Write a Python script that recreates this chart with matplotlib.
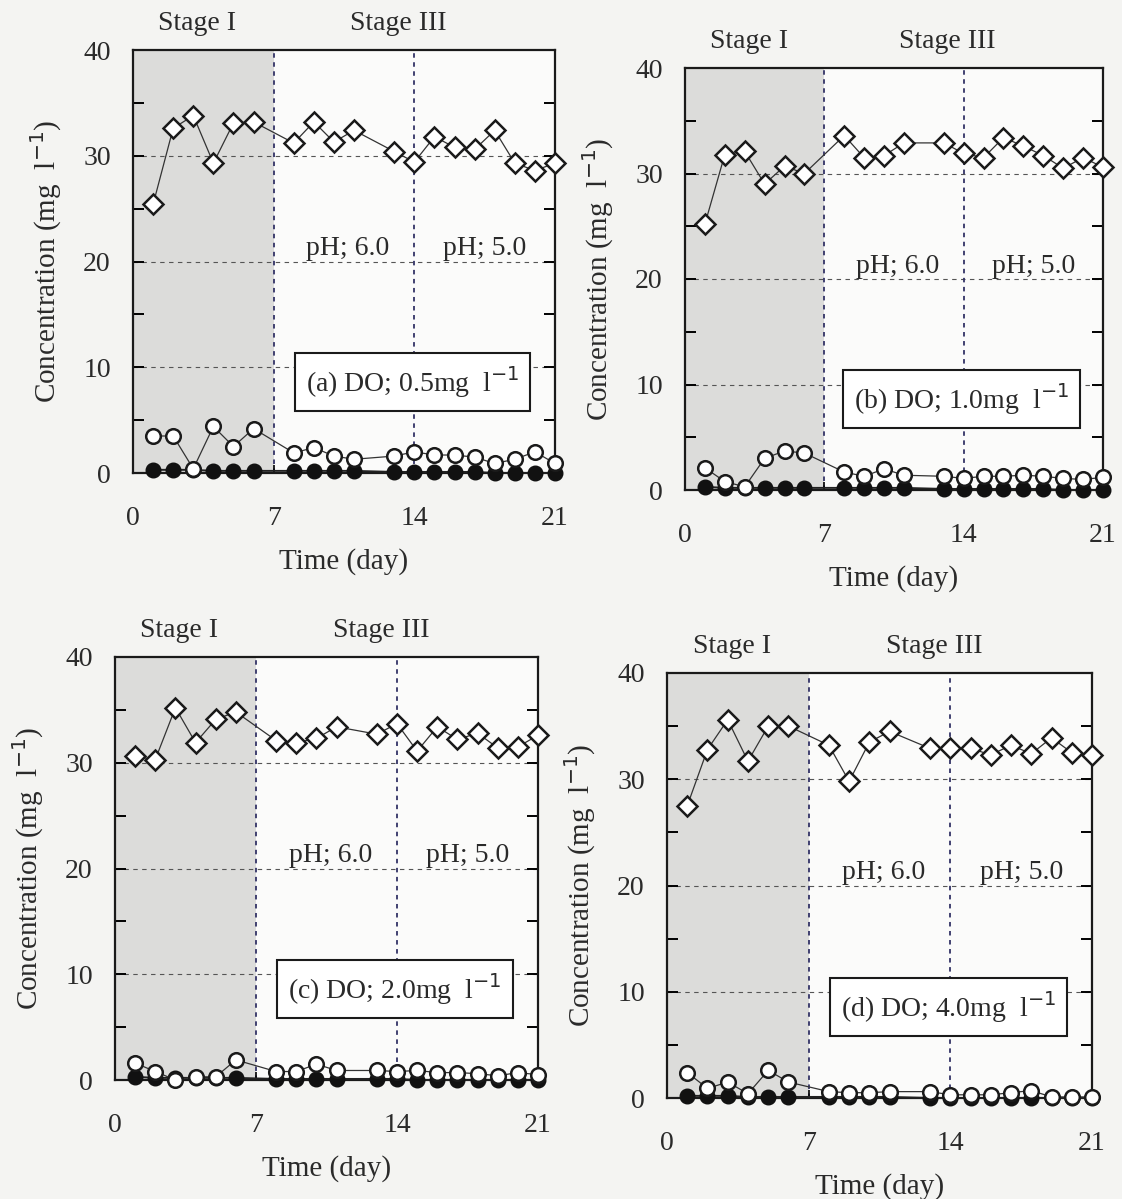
import matplotlib
matplotlib.use("Agg")
import matplotlib.pyplot as plt
import numpy as np

plt.rcParams['font.family'] = ['Liberation Serif', 'DejaVu Serif']

days = [1, 2, 3, 4, 5, 6, 8, 9, 10, 11, 13, 14, 15, 16, 17, 18, 19, 20, 21]

diam_a = [25.4, 32.6, 33.8, 29.3, 33.1, 33.2, 31.2, 33.2, 31.3, 32.4, 30.4, 29.4, 31.8, 30.8, 30.6, 32.4, 29.3, 28.6, 29.3]
open_a = [3.5, 3.5, 0.4, 4.4, 2.5, 4.2, 1.9, 2.4, 1.6, 1.3, 1.6, 2.0, 1.7, 1.7, 1.5, 0.9, 1.3, 2.0, 0.9]
fill_a = [0.3, 0.3, 0.3, 0.2, 0.2, 0.2, 0.2, 0.2, 0.2, 0.2, 0.1, 0.1, 0.1, 0.1, 0.1, 0.0, 0.0, 0.0, 0.0]

diam_b = [25.2, 31.8, 32.1, 29.0, 30.7, 30.0, 33.6, 31.5, 31.7, 32.9, 32.9, 31.9, 31.5, 33.4, 32.6, 31.7, 30.5, 31.5, 30.6]
open_b = [2.1, 0.8, 0.3, 3.0, 3.7, 3.5, 1.7, 1.3, 2.0, 1.4, 1.3, 1.1, 1.3, 1.3, 1.4, 1.3, 1.1, 1.0, 1.2]
fill_b = [0.3, 0.2, 0.2, 0.2, 0.2, 0.2, 0.2, 0.2, 0.2, 0.2, 0.1, 0.1, 0.1, 0.1, 0.1, 0.1, 0.0, 0.0, 0.0]

diam_c = [30.6, 30.3, 35.2, 31.9, 34.1, 34.8, 32.1, 31.9, 32.3, 33.4, 32.7, 33.7, 31.1, 33.4, 32.2, 32.8, 31.4, 31.5, 32.6]
open_c = [1.6, 0.8, 0.0, 0.3, 0.3, 1.9, 0.8, 0.8, 1.5, 0.9, 0.9, 0.8, 0.9, 0.7, 0.7, 0.6, 0.4, 0.7, 0.5]
fill_c = [0.3, 0.2, 0.2, 0.2, 0.2, 0.2, 0.1, 0.1, 0.1, 0.1, 0.1, 0.1, 0.0, 0.0, 0.0, 0.0, 0.0, 0.0, 0.0]

diam_d = [27.5, 32.8, 35.6, 31.7, 35.0, 35.0, 33.2, 29.8, 33.5, 34.5, 32.9, 32.9, 32.9, 32.3, 33.2, 32.4, 33.9, 32.5, 32.3]
open_d = [2.4, 0.9, 1.5, 0.4, 2.6, 1.5, 0.6, 0.5, 0.5, 0.6, 0.6, 0.3, 0.3, 0.3, 0.5, 0.7, 0.1, 0.1, 0.1]
fill_d = [0.2, 0.2, 0.2, 0.1, 0.1, 0.1, 0.1, 0.1, 0.1, 0.1, 0.0, 0.0, 0.0, 0.0, 0.0, 0.0, 0.0, 0.0, 0.0]

panel_labels = ["(a) DO; 0.5mg  l$^{-1}$", "(b) DO; 1.0mg  l$^{-1}$",
                "(c) DO; 2.0mg  l$^{-1}$", "(d) DO; 4.0mg  l$^{-1}$"]
xticks = [0, 7, 14, 21]
yticks = [0, 10, 20, 30, 40]

W, H = 1122, 1199
fig = plt.figure(figsize=(W / 100, H / 100), dpi=100, facecolor='#f4f4f2')

# pixel boxes: left, right, top, bottom
boxes = [(133, 555, 50, 473), (685, 1103, 68, 490), (115, 538, 657, 1080), (667, 1092, 673, 1098)]
series = [(diam_a, open_a, fill_a), (diam_b, open_b, fill_b),
          (diam_c, open_c, fill_c), (diam_d, open_d, fill_d)]

txt = '#2a2a2a'
for (l, r, t, b), (dm, op, fl), lab in zip(boxes, series, panel_labels):
    ax = fig.add_axes([l / W, 1 - b / H, (r - l) / W, (b - t) / H])
    ax.set_facecolor('#fbfbfa')
    ax.set_xlim(0, 21)
    ax.set_ylim(0, 40)
    ax.axvspan(0, 7, color='#dcdcda', zorder=0, lw=0)
    for yv in (10, 20, 30):
        ax.axhline(yv, color='#555555', lw=0.8, ls=(0, (4, 4)), zorder=1)
    for xv in (7, 14):
        ax.axvline(xv, color='#333366', lw=1.3, ls=(0, (2.5, 2.5)), zorder=1)
    ax.plot(days, dm, color='#333333', lw=0.9, marker='D', ms=10.5, mfc='white',
            mec='#1a1a1a', mew=1.8, zorder=4, clip_on=False)
    ax.plot(days, fl, color='#222222', lw=1.4, marker='o', ms=10.5, mfc='#111111',
            mec='#111111', mew=1.0, zorder=3, clip_on=False)
    ax.plot(days, op, color='#333333', lw=0.9, marker='o', ms=10.5, mfc='white',
            mec='#1a1a1a', mew=1.8, zorder=5, clip_on=False)
    for s in ax.spines.values():
        s.set_linewidth(1.6)
        s.set_color('#1a1a1a')
    ax.set_xticks(xticks)
    ax.set_yticks(yticks)
    ax.set_yticks([5, 15, 25, 35], minor=True)
    ax.tick_params(axis='y', which='both', direction='in', left=True, right=True,
                   length=8, width=1.4, labelsize=20, pad=16, labelcolor=txt)
    ax.tick_params(axis='x', direction='in', length=6, width=1.2, labelsize=20,
                   pad=24, labelcolor=txt)
    ax.set_xlabel('Time (day)', fontsize=21, color=txt, labelpad=12)
    ax.set_ylabel('Concentration (mg  l$^{-1}$)', fontsize=21, color=txt, labelpad=14)
    ax.text(3.2, 42.5, 'Stage I', fontsize=20, ha='center', va='center', color=txt, clip_on=False)
    ax.text(13.2, 42.5, 'Stage III', fontsize=20, ha='center', va='center', color=txt, clip_on=False)
    ax.text(10.7, 21.2, 'pH; 6.0', fontsize=20, ha='center', va='center', color=txt, zorder=6)
    ax.text(17.5, 21.2, 'pH; 5.0', fontsize=20, ha='center', va='center', color=txt, zorder=6)
    ax.text(13.9, 8.6, lab, fontsize=20, ha='center', va='center', color=txt, zorder=6,
            bbox=dict(boxstyle='square,pad=0.4', fc='white', ec='#1a1a1a', lw=1.5))

fig.savefig('out.png', dpi=100, facecolor=fig.get_facecolor())
